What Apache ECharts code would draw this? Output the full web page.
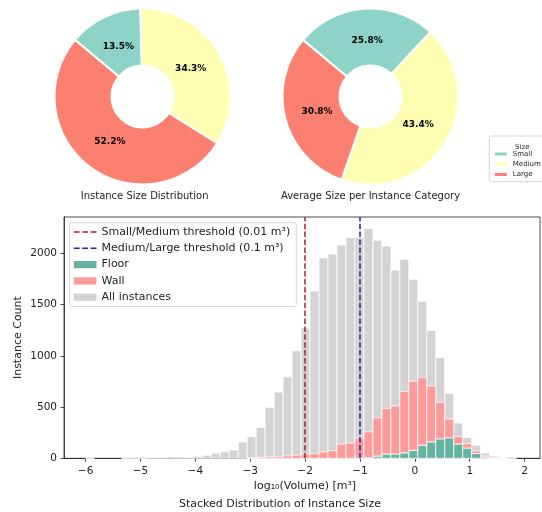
<!DOCTYPE html>
<html>
<head>
<meta charset="utf-8">
<script src="https://cdn.jsdelivr.net/npm/echarts@6/dist/echarts.min.js"></script>
<style>
  html, body { margin: 0; padding: 0; background: #fff; }
  #chart { width: 542px; height: 512px; }
</style>
</head>
<body>
<div id="chart"></div>
<script>
// Size categories and their shares (percent)
const sizeCats = ['Small', 'Medium', 'Large'];
const countShare = [13.5, 34.3, 52.2];      // share of instances per size class
const avgSizeShare = [25.8, 43.4, 30.8];    // share of average size per class

// Histogram of log10(volume): fixed-width bins
const binStart = -6.0;
const binWidth = 0.1636;
const allCounts = [1, 0, 0, 0, 2, 5, 2, 8, 8, 16, 14, 8, 18, 30, 50, 65, 81, 159, 211, 303,
  497, 646, 794, 1050, 1272, 1632, 1955, 1992, 2080, 2152, 2157, 2242, 2128, 2070, 1835, 1942,
  1747, 1532, 1247, 983, 633, 345, 203, 127, 52, 22, 6, 2];
const floorCounts = [0, 0, 0, 0, 0, 0, 0, 0, 0, 0, 0, 0, 0, 0, 0, 0, 0, 0, 0, 0,
  0, 0, 0, 0, 0, 0, 0, 0, 0, 0, 2, 4, 22, 42, 42, 53,
  76, 128, 160, 190, 200, 139, 100, 47, 11, 2, 0, 0];
const wallCounts = [0, 0, 0, 0, 0, 0, 0, 0, 0, 0, 0, 0, 0, 0, 0, 0, 0, 0, 3, 9,
  15, 16, 24, 31, 42, 45, 63, 74, 139, 149, 195, 253, 374, 445, 468, 600,
  677, 662, 546, 356, 183, 72, 43, 24, 11, 4, 1, 0];

// Thresholds in log10(m³): 0.01 m³ and 0.1 m³
const thresholds = [-2, -1];
const thresholdNames = ['Small/Medium threshold (0.01 m³)', 'Medium/Large threshold (0.1 m³)'];

const xTicks = [-6, -5, -4, -3, -2, -1, 0, 1, 2];
const yTicks = [0, 500, 1000, 1500, 2000];

// Styles
const FONT = 'DejaVu Sans';
const pieColors = ['#8dd3c7', '#ffffb3', '#fb8072'];
const thresholdColors = ['#a3262a', '#22229a'];
const floorColor = '#67b3a1';
const wallColor = '#ff9a9a';
const allColor = '#d3d3d3';
const dashIcon = 'path://M0,0H5.5V1.5H0Z M8,0H13.5V1.5H8Z M16,0H21.5V1.5H16Z';

const yMax = 2354;

function edge(i) { return binStart + i * binWidth; }

function histData(lower, upper) {
  return upper.map((u, i) => [edge(i), edge(i + 1), lower ? lower[i] : 0, (lower ? lower[i] : 0) + u]);
}

function renderBar(params, api) {
  const y0 = api.value(2), y1 = api.value(3);
  if (y1 - y0 <= 0) return null;
  const tl = api.coord([api.value(0), y1]);
  const br = api.coord([api.value(1), y0]);
  return {
    type: 'rect',
    shape: { x: tl[0], y: tl[1], width: br[0] - tl[0], height: br[1] - tl[1] },
    style: { fill: api.visual('color'), stroke: '#ffffff', lineWidth: 0.8 }
  };
}

function pieItems(values) {
  return sizeCats.map((n, i) => ({ name: n, value: values[i], itemStyle: { color: pieColors[i] } }));
}

function ringSeries(values, cx) {
  return {
    type: 'pie',
    center: [cx, 96.5],
    radius: [31, 88],
    startAngle: 140,
    clockwise: true,
    silent: true,
    animation: false,
    label: { show: false },
    labelLine: { show: false },
    itemStyle: { borderColor: '#ffffff', borderWidth: 2 },
    data: pieItems(values)
  };
}

function labelSeries(values, cx) {
  return {
    type: 'pie',
    center: [cx, 96.5],
    radius: [0, 105],
    startAngle: 140,
    clockwise: true,
    silent: true,
    animation: false,
    legendHoverLink: false,
    itemStyle: { color: 'rgba(0,0,0,0)' },
    label: {
      show: true, position: 'inside',
      formatter: p => p.value.toFixed(1) + '%',
      fontFamily: FONT, fontSize: 9, fontWeight: 'bold', color: '#000'
    },
    labelLine: { show: false },
    data: sizeCats.map((n, i) => ({ name: n, value: values[i] }))
  };
}

const minus = v => (v < 0 ? '\u2212' + (-v) : String(v));

const chart = echarts.init(document.getElementById('chart'), null, { renderer: 'canvas' });

chart.setOption({
  backgroundColor: '#ffffff',
  animation: false,
  textStyle: { fontFamily: FONT },
  title: [
    { text: 'Size', left: 517.3, top: 139, textAlign: 'center',
      textStyle: { fontFamily: FONT, fontSize: 7, fontWeight: 'normal', color: '#222' } }
  ],
  legend: [
    {
      data: sizeCats,
      orient: 'vertical',
      left: 489.3, top: 136,
      icon: 'rect',
      itemWidth: 14, itemHeight: 5,
      itemGap: 2.3, itemTextGap: 5,
      padding: [14, 4, 3, 3.5],
      selectedMode: false,
      textStyle: { fontFamily: FONT, fontSize: 7, lineHeight: 8, color: '#222' }
    },
    {
      data: [
        { name: thresholdNames[0], icon: dashIcon },
        { name: thresholdNames[1], icon: dashIcon },
        { name: 'Floor', icon: 'rect' },
        { name: 'Wall', icon: 'rect' },
        { name: 'All instances', icon: 'rect' }
      ],
      orient: 'vertical',
      left: 69.3, top: 222.7,
      itemWidth: 22.7, itemHeight: 7.3,
      itemGap: 5.3, itemTextGap: 8.3,
      padding: [3.8, 6, 3.8, 4.5],
      borderColor: '#cccccc', borderWidth: 0.8, borderRadius: 2,
      backgroundColor: 'rgba(255,255,255,0.8)',
      selectedMode: false,
      textStyle: { fontFamily: FONT, fontSize: 11, lineHeight: 11, color: '#222' }
    }
  ],
  grid: { left: 64, top: 217, right: 2, bottom: 53.7, show: true, borderColor: '#222', borderWidth: 0.8, backgroundColor: 'transparent' },
  xAxis: {
    type: 'value', min: -6.393, max: 2.28,
    splitLine: { show: false },
    axisLine: { show: true, onZero: false, lineStyle: { color: '#222', width: 0.8 } },
    axisTick: { show: true, length: 3.5, customValues: xTicks, lineStyle: { color: '#222', width: 0.8 } },
    axisLabel: { customValues: xTicks, formatter: minus, margin: 7, fontFamily: FONT, fontSize: 10.5, color: '#222' }
  },
  yAxis: {
    type: 'value', min: 0, max: yMax,
    splitLine: { show: false },
    axisLine: { show: true, onZero: false, lineStyle: { color: '#222', width: 0.8 } },
    axisTick: { show: true, length: 3.5, customValues: yTicks, lineStyle: { color: '#222', width: 0.8 } },
    axisLabel: { customValues: yTicks, formatter: v => String(v), margin: 7, fontFamily: FONT, fontSize: 10.5, color: '#222' }
  },
  graphic: [
    // frame of the size legend, running past the right edge
    { type: 'rect', z: -1, shape: { x: 489.3, y: 136, width: 70, height: 45.7, r: 2 },
      style: { fill: '#ffffff', stroke: '#cccccc', lineWidth: 0.8 } },
    { type: 'text', x: 144.6, y: 196, style: { text: 'Instance Size Distribution', font: '10px "DejaVu Sans"', fill: '#222', textAlign: 'center', textVerticalAlign: 'middle' } },
    { type: 'text', x: 370.5, y: 196, style: { text: 'Average Size per Instance Category', font: '10px "DejaVu Sans"', fill: '#222', textAlign: 'center', textVerticalAlign: 'middle' } },
    { type: 'text', x: 305, y: 486, style: { text: 'log\u2081\u2080(Volume) [m³]', font: '11px "DejaVu Sans"', fill: '#222', textAlign: 'center', textVerticalAlign: 'middle' } },
    { type: 'text', x: 280, y: 504, style: { text: 'Stacked Distribution of Instance Size', font: '11px "DejaVu Sans"', fill: '#222', textAlign: 'center', textVerticalAlign: 'middle' } },
    { type: 'text', x: 18.5, y: 337.6, rotation: Math.PI / 2, style: { text: 'Instance Count', font: '11px "DejaVu Sans"', fill: '#222', textAlign: 'center', textVerticalAlign: 'middle' } }
  ],
  series: [
    ringSeries(countShare, 142.5),
    ringSeries(avgSizeShare, 370.5),
    labelSeries(countShare, 142.5),
    labelSeries(avgSizeShare, 370.5),
    {
      name: 'All instances', type: 'custom', renderItem: renderBar,
      itemStyle: { color: allColor },
      encode: { x: [0, 1], y: [2, 3] },
      data: histData(null, allCounts), z: 1
    },
    {
      name: 'Floor', type: 'custom', renderItem: renderBar,
      itemStyle: { color: floorColor },
      encode: { x: [0, 1], y: [2, 3] },
      data: histData(null, floorCounts), z: 2
    },
    {
      name: 'Wall', type: 'custom', renderItem: renderBar,
      itemStyle: { color: wallColor },
      encode: { x: [0, 1], y: [2, 3] },
      data: histData(floorCounts, wallCounts), z: 2
    },
    ...thresholds.map((t, i) => ({
      name: thresholdNames[i], type: 'line', data: [], symbol: 'none', z: 5,
      itemStyle: { color: thresholdColors[i] },
      lineStyle: { color: thresholdColors[i], type: [5.5, 2.4], width: 1.5 },
      markLine: {
        silent: true, symbol: ['none', 'none'], label: { show: false },
        lineStyle: { color: thresholdColors[i], type: [5.5, 2.4], width: 1.5 },
        emphasis: { disabled: true },
        data: [{ xAxis: t }]
      }
    }))
  ]
});
</script>
</body>
</html>
